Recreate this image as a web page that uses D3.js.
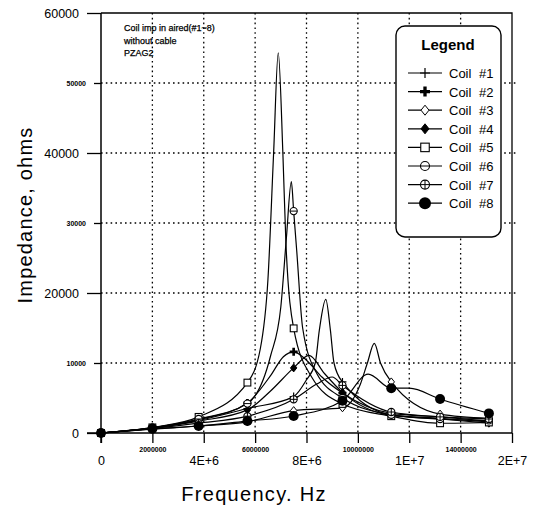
<!DOCTYPE html>
<html>
<head>
<meta charset="utf-8">
<script src="https://cdn.jsdelivr.net/npm/d3@7"></script>
<style>
  body { margin: 0; background: #fff; }
  svg { font-family: "Liberation Sans", Arial, sans-serif; }
</style>
</head>
<body>
<svg width="536" height="507"></svg>
<script>
// data (ohms vs Hz)
var coils = ['Coil #1', 'Coil #2', 'Coil #3', 'Coil #4', 'Coil #5', 'Coil #6', 'Coil #7', 'Coil #8'];
var markers = ['plus', 'boldplus', 'diamond', 'fdiamond', 'square', 'circle', 'circleplus', 'fcircle'];
// frequencies where the markers sit
var markFreq = [0, 2.0e6, 3.8e6, 5.7e6, 7.5e6, 9.4e6, 11.3e6, 13.2e6, 15.1e6];
var coil1 = [0, 700, 1800, 3500, 5200, 7300, 2600, 2100, 1600];
var coil2 = [0, 750, 1900, 4300, 11600, 5700, 2800, 2300, 1700];
var coil3 = [0, 550, 1000, 1600, 3200, 3600, 7300, 2700, 2100];
var coil4 = [0, 700, 1700, 3300, 9300, 5800, 2500, 2000, 1400];
var coil5 = [0, 800, 2300, 7200, 14950, 4150, 2400, 1390, 1500];
var coil6 = [0, 750, 2000, 4200, 31700, 5000, 2600, 2000, 1800];
var coil7 = [0, 650, 1400, 2400, 4810, 6800, 3000, 2300, 2000];
var coil8 = [0, 600, 1000, 1710, 2430, 4600, 6400, 4850, 2800];
// extra points between markers (resonance peaks), no marker drawn
var coil1Extra = [[8.0e6, 7600], [8.34e6, 10000], [8.5e6, 14700], [8.75e6, 19100], [8.93e6, 14700], [9.07e6, 10000]];
var coil2Extra = [[6.6e6, 8200], [7.1e6, 10900], [8.0e6, 10400], [8.6e6, 8000]];
var coil3Extra = [[10.1e6, 7000], [10.37e6, 10000], [10.64e6, 12800], [10.88e6, 10000]];
var coil4Extra = [[6.6e6, 6000], [8.1e6, 11100], [8.7e6, 8500]];
var coil5Extra = [[6.2e6, 12000], [6.5e6, 22000], [6.72e6, 40000], [6.9e6, 54300], [7.08e6, 40000], [7.2e6, 27000], [8.2e6, 8000]];
var coil6Extra = [[6.6e6, 11000], [7.0e6, 18000], [7.22e6, 28000], [7.41e6, 35900], [7.62e6, 26000], [7.85e6, 15000], [8.4e6, 8500]];
var coil7Extra = [[8.4e6, 7000], [9.0e6, 8000]];
var coil8Extra = [[10.4e6, 8400], [12.0e6, 6400]];

var xTicks = [0, 2e6, 4e6, 6e6, 8e6, 10e6, 12e6, 14e6, 16e6];
var xTickLabels = ['0', '2000000', '4E+6', '6000000', '8E+6', '10000000', '1E+7', '14000000', '2E+7'];
var yTicks = [0, 10000, 20000, 30000, 40000, 50000, 60000];
var yTickLabels = ['0', '10000', '20000', '30000', '40000', '50000', '60000'];
var note = ['Coil imp in aired(#1~8)', 'without cable', 'PZAG2'];

var marks = [coil1, coil2, coil3, coil4, coil5, coil6, coil7, coil8];
var extras = [coil1Extra, coil2Extra, coil3Extra, coil4Extra, coil5Extra, coil6Extra, coil7Extra, coil8Extra];

var series = coils.map(function(name, i) {
    var pts = markFreq.map((f, j) => ({f: f, z: marks[i][j], m: true}));
    extras[i].forEach(p => pts.push({f: p[0], z: p[1], m: false}));
    pts.sort((a, b) => a.f - b.f);
    return {name: name, marker: markers[i], points: pts};
});

var svg = d3.select('svg');
var x = d3.scaleLinear().domain([0, 16e6]).range([101, 512]);
var y = d3.scaleLinear().domain([0, 60000]).range([433, 13]);

// grid
svg.append('g').selectAll('line')
    .data(xTicks.slice(1, -1))
    .enter().append('line')
    .attr('x1', d => x(d)).attr('x2', d => x(d))
    .attr('y1', y(60000)).attr('y2', y(0))
    .attr('stroke', '#000').attr('stroke-width', 1.3)
    .attr('stroke-dasharray', '1.6,3.2');
svg.append('g').selectAll('line')
    .data(yTicks.slice(1, -1))
    .enter().append('line')
    .attr('x1', x(0)).attr('x2', x(16e6) + 6)
    .attr('y1', d => y(d)).attr('y2', d => y(d))
    .attr('stroke', '#000').attr('stroke-width', 1.3)
    .attr('stroke-dasharray', '1.6,3.2');

// frame
svg.append('path')
    .attr('d', 'M' + x(0) + ',' + y(60000) + 'H' + x(16e6) + 'V' + y(0))
    .attr('fill', 'none').attr('stroke', '#000').attr('stroke-width', 1.3);

// axes; the small labels are drawn at double size and scaled down
var xAxis = d3.axisBottom(x).tickValues(xTicks).tickSize(10).tickFormat((d, i) => xTickLabels[i]);
var gx = svg.append('g').attr('transform', 'translate(0,' + y(0) + ')').call(xAxis);
gx.select('.domain').remove();
gx.selectAll('line').attr('stroke-width', 1.3);
gx.selectAll('text')
    .attr('font-size', (d, i) => i % 2 ? 14 : 12.5)
    .attr('font-weight', (d, i) => i % 2 ? 'bold' : 'normal')
    .attr('transform', (d, i) => i % 2 ? 'scale(0.5)' : null)
    .attr('y', (d, i) => i % 2 ? 28 : 23)
    .attr('fill', '#000');
var yAxis = d3.axisLeft(y).tickValues(yTicks).tickSize(14).tickFormat((d, i) => yTickLabels[i]);
var gy = svg.append('g').attr('transform', 'translate(' + x(0) + ',0)').call(yAxis);
gy.select('.domain').remove();
gy.selectAll('line')
    .attr('stroke-width', 1.3)
    .attr('x2', (d, i) => i % 2 ? -7 : -14);
gy.selectAll('text')
    .attr('font-size', (d, i) => i % 2 ? 14 : 12.5)
    .attr('font-weight', (d, i) => i % 2 ? 'bold' : 'normal')
    .attr('transform', (d, i) => i % 2 ? 'scale(0.5)' : null)
    .attr('x', (d, i) => i % 2 ? -30 : -22)
    .attr('fill', '#000');
svg.append('line')
    .attr('x1', x(0) - 14).attr('x2', x(16e6))
    .attr('y1', y(0)).attr('y2', y(0))
    .attr('stroke', '#000').attr('stroke-width', 1.5);
svg.append('line')
    .attr('x1', x(0)).attr('x2', x(0))
    .attr('y1', y(60000)).attr('y2', y(0) + 10)
    .attr('stroke', '#000').attr('stroke-width', 1.5);

// curves
var line = d3.line().x(d => x(d.f)).y(d => y(d.z)).curve(d3.curveMonotoneX);
svg.append('g').selectAll('path')
    .data(series)
    .enter().append('path')
    .attr('d', d => line(d.points))
    .attr('fill', 'none').attr('stroke', '#000').attr('stroke-width', 1.2);

function drawMarker(g, type, cx, cy, s) {
    var h = s / 2;
    if (type == 'plus') {
        g.append('path').attr('d', `M${cx-h},${cy}H${cx+h}M${cx},${cy-h}V${cy+h}`)
            .attr('stroke', '#000').attr('stroke-width', 1.2);
    } else if (type == 'boldplus') {
        g.append('path').attr('d', `M${cx-h},${cy}H${cx+h}M${cx},${cy-h}V${cy+h}`)
            .attr('stroke', '#000').attr('stroke-width', s / 3);
    } else if (type == 'diamond' || type == 'fdiamond') {
        g.append('path').attr('d', `M${cx},${cy-h}L${cx+h*0.8},${cy}L${cx},${cy+h}L${cx-h*0.8},${cy}Z`)
            .attr('fill', type == 'fdiamond' ? '#000' : '#fff').attr('stroke', '#000').attr('stroke-width', 1);
    } else if (type == 'square') {
        g.append('rect').attr('x', cx - h * 0.85).attr('y', cy - h * 0.85)
            .attr('width', h * 1.7).attr('height', h * 1.7)
            .attr('fill', '#fff').attr('stroke', '#000').attr('stroke-width', 1.1);
    } else if (type == 'circle' || type == 'circleplus') {
        g.append('circle').attr('cx', cx).attr('cy', cy).attr('r', h * 0.9)
            .attr('fill', '#fff').attr('stroke', '#000').attr('stroke-width', 1.1);
        if (type == 'circleplus')
            g.append('path').attr('d', `M${cx-h*0.9},${cy}H${cx+h*0.9}M${cx},${cy-h*0.9}V${cy+h*0.9}`)
                .attr('stroke', '#000').attr('stroke-width', 1);
        else
            g.append('path').attr('d', `M${cx-h*0.9},${cy}H${cx+h*0.9}`)
                .attr('stroke', '#000').attr('stroke-width', 1);
    } else if (type == 'fcircle') {
        g.append('circle').attr('cx', cx).attr('cy', cy).attr('r', h)
            .attr('fill', '#000');
    }
}

var gm = svg.append('g');
series.forEach(function(s) {
    s.points.filter(p => p.m).forEach(function(p) {
        var size = s.marker == 'fcircle' ? 10 : 8;
        drawMarker(gm, s.marker, x(p.f), y(p.z), size);
    });
});

// note in the corner
svg.append('g').selectAll('text')
    .data(note)
    .enter().append('text')
    .attr('x', 124)
    .attr('y', (d, i) => 31 + i * 12.5)
    .attr('font-size', 9)
    .attr('stroke', '#000').attr('stroke-width', 0.25)
    .text(d => d);

// legend
var lg = svg.append('g');
lg.append('rect')
    .attr('x', 396).attr('y', 26).attr('width', 105).attr('height', 211)
    .attr('rx', 9).attr('fill', '#fff').attr('stroke', '#000').attr('stroke-width', 1.4);
lg.append('text')
    .attr('x', 448).attr('y', 50)
    .attr('text-anchor', 'middle')
    .attr('font-size', 15).attr('font-weight', 'bold')
    .text('Legend');
series.forEach(function(s, i) {
    var ly = 73 + i * 18.6;
    lg.append('line').attr('x1', 408).attr('x2', 442).attr('y1', ly).attr('y2', ly)
        .attr('stroke', '#000').attr('stroke-width', 1.2);
    drawMarker(lg, s.marker, 425, ly, s.marker == 'fcircle' ? 12 : 10);
    lg.append('text').attr('x', 449).attr('y', ly + 5)
        .attr('font-size', 13).attr('word-spacing', 4)
        .text(s.name);
});

// axis titles
svg.append('text')
    .attr('transform', 'translate(32,215) rotate(-90)')
    .attr('text-anchor', 'middle')
    .attr('font-size', 20).attr('letter-spacing', 1.2)
    .text('Impedance, ohms');
svg.append('text')
    .attr('x', 254).attr('y', 501)
    .attr('text-anchor', 'middle')
    .attr('font-size', 20).attr('letter-spacing', 1.3)
    .text('Frequency. Hz');
</script>
</body>
</html>
